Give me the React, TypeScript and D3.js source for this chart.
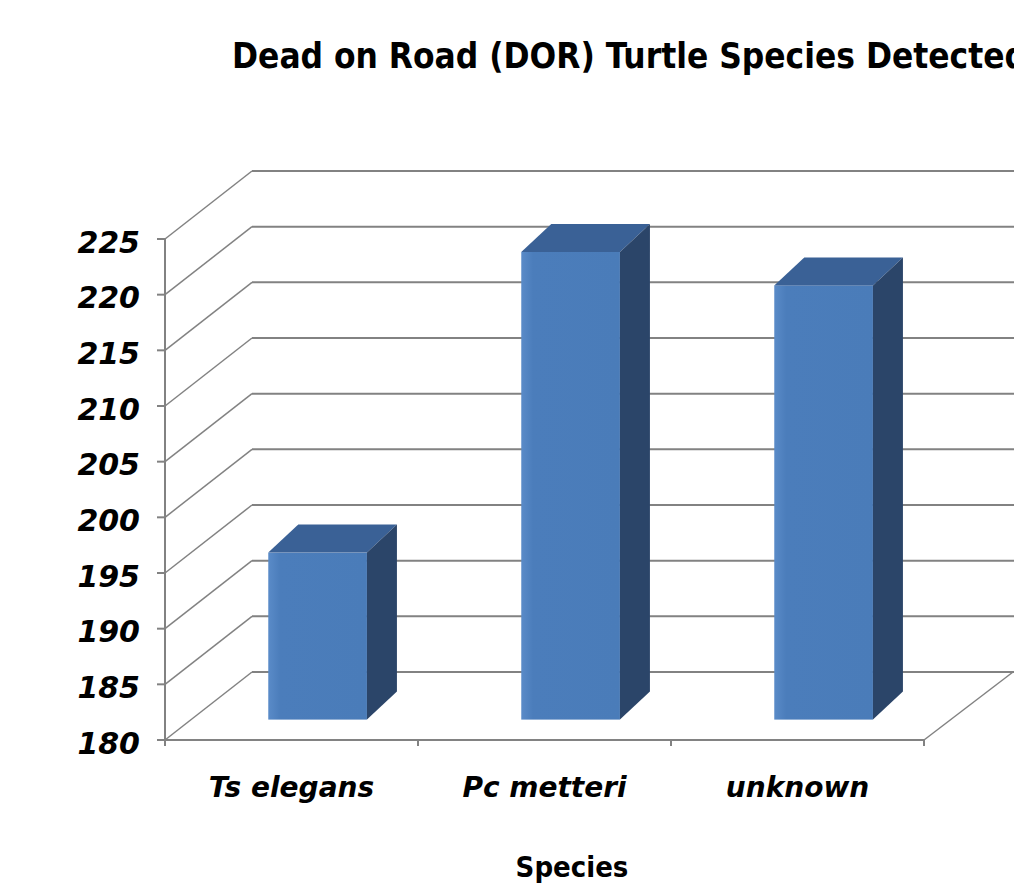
import * as React from 'react';
import * as d3 from 'd3';

const categories = ['Ts elegans', 'Pc metteri', 'unknown'];
const counts = [195, 222, 219];
const yTicks = [180, 185, 190, 195, 200, 205, 210, 215, 220, 225];

const W = 1014;
const H = 886;

// oblique offset of the back wall and of a bar's depth
const wallDx = 87;
const wallDy = -68;
const barFrac = 0.3;
const barDx = 30;
const barDy = -28;

const App = () => {
  const x = d3.scaleBand<string>().domain(categories).range([165, 924]).padding(0);
  const y = d3.scaleLinear().domain([180, 225]).range([740, 239]);

  const x0 = 165;
  const x1 = 924;
  const barW = x.bandwidth() * 0.39;
  const gridCol = '#828282';

  return (
    <svg width={W} height={H} style={{ position: 'absolute', left: 0, top: 0, background: '#fff' }}
      fontFamily="DejaVu Sans, Verdana, sans-serif">
      <defs>
        <linearGradient id="front" x1="0" x2="1" y1="0" y2="0">
          <stop offset="0%" stopColor="#5a8bc8" />
          <stop offset="12%" stopColor="#4b7dbb" />
          <stop offset="100%" stopColor="#4a7cb9" />
        </linearGradient>
      </defs>

      <text x={232} y={68} fontSize={36} fontWeight="bold" fontFamily="DejaVu Sans Condensed, DejaVu Sans, sans-serif"
        textLength={795} lengthAdjust="spacingAndGlyphs" fill="#000">
        Dead on Road (DOR) Turtle Species Detected
      </text>

      {/* back wall grid and left wall diagonals */}
      {yTicks.map((t) => (
        <g key={t}>
          <line x1={x0 + wallDx} x2={W} y1={y(t) + wallDy} y2={y(t) + wallDy} stroke={gridCol} strokeWidth={2} />
          <line x1={x0} x2={x0 + wallDx} y1={y(t)} y2={y(t) + wallDy} stroke={gridCol} strokeWidth={1.5} />
          <line x1={x0 - 8} x2={x0} y1={y(t)} y2={y(t)} stroke={gridCol} strokeWidth={2} />
          <text x={140} y={y(t) + 5} textAnchor="end" dominantBaseline="middle" fontSize={30}
            fontWeight="bold" fontStyle="italic" fill="#000">{t}</text>
        </g>
      ))}
      {/* floor right edge */}
      <line x1={x1} x2={x1 + wallDx + 2} y1={y(180)} y2={y(180) + wallDy} stroke={gridCol} strokeWidth={1.5} />

      {/* bars */}
      {categories.map((c, i) => {
        const cx = (x(c) as number) + x.bandwidth() / 2 + barFrac * wallDx;
        const left = cx - barW / 2;
        const right = cx + barW / 2;
        const base = y(180) + barFrac * wallDy;
        const top = base - (y(180) - y(counts[i]));
        return (
          <g key={c}>
            <rect x={left} y={top} width={barW} height={base - top} fill="url(#front)" />
            <path d={`M${left},${top}L${left + barDx},${top + barDy}L${right + barDx},${top + barDy}L${right},${top}Z`}
              fill="#3a6196" />
            <path d={`M${right},${top}L${right + barDx},${top + barDy}L${right + barDx},${base + barDy}L${right},${base}Z`}
              fill="#2b4569" />
          </g>
        );
      })}

      {/* front axes */}
      <line x1={x0} x2={x0} y1={y(225)} y2={y(180) + 6} stroke={gridCol} strokeWidth={2} />
      <line x1={x0 - 8} x2={x1} y1={y(180)} y2={y(180)} stroke={gridCol} strokeWidth={2} />
      {categories.map((c) => (
        <line key={c} x1={(x(c) as number) + x.bandwidth()} x2={(x(c) as number) + x.bandwidth()}
          y1={y(180)} y2={y(180) + 6} stroke={gridCol} strokeWidth={2} />
      ))}
      {categories.map((c) => (
        <text key={c} x={(x(c) as number) + x.bandwidth() / 2} y={797} textAnchor="middle" fontSize={28}
          fontWeight="bold" fontStyle="italic" fill="#000">{c}</text>
      ))}

      <text x={572} y={877} textAnchor="middle" fontSize={29} fontWeight="bold" fill="#000"
        fontFamily="DejaVu Sans Condensed, DejaVu Sans, sans-serif">Species</text>
    </svg>
  );
};

export default App;
